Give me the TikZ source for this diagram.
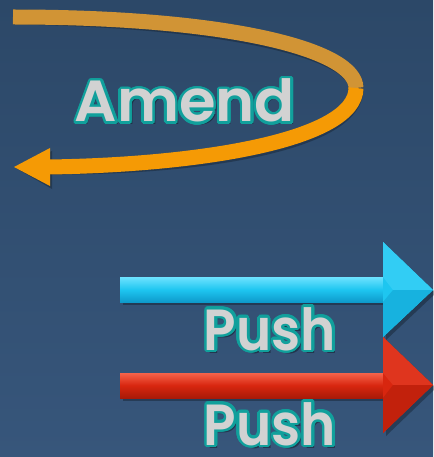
\documentclass[tikz,border=0pt]{standalone}
\usepackage{fontspec}
\setmainfont{Poppins}
\newfontfamily\amendfont{Poppins SemiBold}[FakeStretch=1.02]
\newfontfamily\pushfont{Poppins SemiBold}[FakeStretch=0.92]
\usetikzlibrary{calc}
\definecolor{bgtop}{HTML}{2C4868}
\definecolor{bgbot}{HTML}{37567B}
\definecolor{orgtop}{HTML}{D19435}
\definecolor{orgbot}{HTML}{F59A05}
\definecolor{cyanL}{HTML}{6EE2FF}
\definecolor{cyanM}{HTML}{1EC6F0}
\definecolor{cyanD}{HTML}{0E9ACB}
\definecolor{redL}{HTML}{F5634A}
\definecolor{redM}{HTML}{D8260F}
\definecolor{redD}{HTML}{A81A08}
\definecolor{txtteal}{HTML}{11A09C}
\definecolor{txtgray}{HTML}{D2D2D2}
\tikzset{
  txtbase/.style={anchor=base,inner sep=0pt},
  txtshadow/.style={txtbase,text=black,opacity=.35},
  txtline/.style={txtbase,text=txtteal},
  txtfill/.style={txtbase,text=txtgray},
  shadowfill/.style={fill=black,opacity=.28}
}
\newcommand\otext[3]{%
  \node[txtshadow] at ($(#1)+(3,3)$) {#3};
  \foreach \a in {0,15,...,345}{\node[txtline] at ($(#1)+(\a:2.6)$) {#3};}
  \node[txtfill] (#2) at (#1) {#3};
}
\begin{document}
\begin{tikzpicture}[x=1pt,y=-1pt]
\shade[top color=bgtop,bottom color=bgbot] (0,0) rectangle (433,457);
\useasboundingbox (0,0) rectangle (433,457);
% Amend loop arrow
\coordinate (a0) at (13,17);
\coordinate (a1) at (356,88);
\coordinate (a2) at (48,167);
\coordinate (atip) at (14,167);
\begin{scope}[shift={(2,3)},opacity=.25]
  \draw[line width=15,black] (a0) .. controls (230,17) and (356,50) .. (a1);
  \draw[line width=15,black] (a1) .. controls (356,140) and (200,165) .. (a2);
  \fill[black] (atip) -- (50,148) -- (50,186) -- cycle;
\end{scope}
\draw[line width=15,orgtop] (a0) .. controls (230,17) and (356,50) .. (a1);
\draw[line width=15,orgbot] (a1) .. controls (356,140) and (200,165) .. (a2);
\fill[orgbot] (atip) -- (50,148) -- (50,186) -- cycle;
% blue arrow
\fill[shadowfill] (123,280) rectangle (386,305);
\fill[shadowfill] (386,245) -- (436,293) -- (386,340) -- cycle;
\shade[top color=cyanL,bottom color=cyanD,middle color=cyanM] (120,277) rectangle (384,302);
\fill[cyanM] (383,242) -- (433,290) -- (383,337) -- cycle;
\fill[cyanL!25!cyanM] (383,242) -- (433,290) -- (393,290) -- (383,277) -- cycle;
\fill[cyanD!45!cyanM] (383,337) -- (433,290) -- (393,290) -- (383,302) -- cycle;
% red arrow
\fill[shadowfill] (123,376) rectangle (386,401);
\fill[shadowfill] (386,340) -- (436,388) -- (386,436) -- cycle;
\shade[top color=redL,bottom color=redD,middle color=redM] (120,373) rectangle (384,398);
\fill[redM] (383,337) -- (433,385) -- (383,433) -- cycle;
\fill[redL!25!redM] (383,337) -- (433,385) -- (393,385) -- (383,373) -- cycle;
\fill[redD!45!redM] (383,433) -- (433,385) -- (393,385) -- (383,398) -- cycle;
% texts
\otext{185,122}{amend}{\amendfont\fontsize{58}{62}\selectfont Amend}
\otext{270,350}{push1}{\pushfont\fontsize{58}{62}\selectfont Push}
\otext{270,445}{push2}{\pushfont\fontsize{58}{62}\selectfont Push}
\end{tikzpicture}
\end{document}
